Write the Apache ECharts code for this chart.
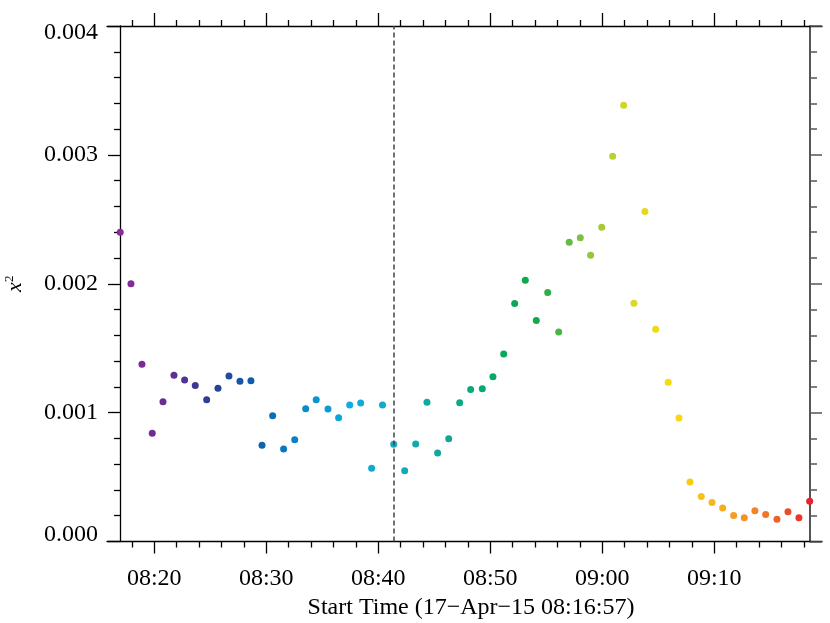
<!DOCTYPE html>
<html>
<head>
<meta charset="utf-8">
<script src="https://cdn.jsdelivr.net/npm/echarts@6/dist/echarts.min.js"></script>
<style>
  html, body { margin: 0; padding: 0; background: #fff; }
  #chart { width: 830px; height: 623px; }
</style>
</head>
<body>
<div id="chart"></div>
<script>
// start time of each fit, minutes after 08:00
const startMinutes = [
  16.96, 17.92, 18.90, 19.82, 20.78, 21.76, 22.71, 23.66, 24.68, 25.69,
  26.67, 27.65, 28.63, 29.62, 30.57, 31.55, 32.54, 33.52, 34.46, 35.51,
  36.46, 37.45, 38.43, 39.41, 40.38, 41.38, 42.36, 43.34, 44.35, 45.30,
  46.29, 47.27, 48.25, 49.29, 50.24, 51.20, 52.18, 53.13, 54.11, 55.13,
  56.11, 57.05, 58.04, 58.96, 59.95, 60.93, 61.91, 62.83, 63.81, 64.77,
  65.89, 66.85, 67.83, 68.84, 69.80, 70.75, 71.73, 72.68, 73.63, 74.59,
  75.60, 76.58, 77.56, 78.52
];
// x^2 values
const chiSquare = [
  0.00240, 0.00200, 0.001375, 0.00084, 0.001085, 0.00129, 0.001253, 0.00121, 0.00110, 0.00119,
  0.001284, 0.001243, 0.001248, 0.000746, 0.000976, 0.000717, 0.00079, 0.00103, 0.00110, 0.001028,
  0.00096, 0.00106, 0.001074, 0.000569, 0.00106, 0.000755, 0.000549, 0.000756, 0.00108, 0.000686,
  0.000798, 0.001077, 0.00118, 0.001186, 0.001279, 0.001455, 0.001846, 0.002027, 0.001714, 0.001932,
  0.001626, 0.002322, 0.002356, 0.002221, 0.002439, 0.00299, 0.003386, 0.001849, 0.002561, 0.001647,
  0.001235, 0.000958, 0.000461, 0.00035, 0.000303, 0.000259, 0.000202, 0.000184, 0.000238, 0.00021,
  0.000173, 0.00023, 0.000184, 0.000313
];
const majorTicks = [20, 30, 40, 50, 60, 70];
const minorTicks = [18, 22, 24, 26, 28, 32, 34, 36, 38, 42, 44, 46, 48, 52, 54, 56, 58, 62, 64, 66, 68, 72, 74, 76, 78];
const markerTime = 41.38;
const xRange = [15.78, 79.62];
const yRange = [0, 0.004];
const colorStops = [
  '#8a2b97', '#6a2c92', '#2a3f94', '#0a62ad', '#0a88cc', '#0aaee2', '#12aabc', '#12a89a',
  '#06a86a', '#10a848', '#80c040', '#d4d628', '#f8dc10', '#f8b020', '#f27a28', '#e8222a'
];

const font = 'Liberation Serif';
const pad = (n) => (n < 10 ? '0' : '') + n;
const timeLabel = (v) => pad(8 + Math.floor(v / 60)) + ':' + pad(Math.round(v % 60));

const chart = echarts.init(document.getElementById('chart'));

const gridBox = { left: 107, right: 8, top: 26, bottom: 81.5, outerBoundsMode: 'none' };

const xBase = {
  type: 'value', min: xRange[0], max: xRange[1],
  splitLine: { show: false },
  axisLine: { onZero: false, lineStyle: { color: '#000', width: 1.3 } }
};

chart.setOption({
  animation: false,
  backgroundColor: '#fff',
  grid: [Object.assign({}, gridBox), Object.assign({}, gridBox)],
  xAxis: [
    Object.assign({}, xBase, {
      gridIndex: 0, position: 'bottom',
      name: 'Start Time (17\u2212Apr\u221215 08:16:57)',
      nameLocation: 'middle', nameGap: 52,
      nameTextStyle: { fontFamily: font, fontSize: 24, color: '#000', padding: [0, 0, 0, 13] },
      axisTick: { customValues: majorTicks, length: 12, lineStyle: { color: '#000', width: 1.3 } },
      axisLabel: { customValues: majorTicks, formatter: timeLabel, fontFamily: font, fontSize: 24, color: '#000', margin: 25 }
    }),
    Object.assign({}, xBase, {
      gridIndex: 0, position: 'top',
      axisTick: { customValues: majorTicks, length: 13, lineStyle: { color: '#000', width: 1.3 } },
      axisLabel: { show: false }
    }),
    Object.assign({}, xBase, {
      gridIndex: 1, position: 'bottom',
      axisLine: { show: false },
      axisTick: { customValues: minorTicks, length: 6, lineStyle: { color: '#000', width: 1.3 } },
      axisLabel: { show: false }
    }),
    Object.assign({}, xBase, {
      gridIndex: 1, position: 'top',
      axisLine: { show: false },
      axisTick: { customValues: minorTicks, length: 6, lineStyle: { color: '#000', width: 1.3 } },
      axisLabel: { show: false }
    })
  ],
  yAxis: [
    {
      gridIndex: 0, type: 'value', position: 'left', offset: -13,
      min: yRange[0], max: yRange[1], interval: 0.001,
      name: '{i|x}{s|2}', nameLocation: 'middle', nameRotate: 90, nameGap: 92,
      nameTextStyle: {
        color: '#000',
        rich: {
          i: { fontFamily: font, fontStyle: 'italic', fontSize: 22, color: '#000' },
          s: { fontFamily: font, fontSize: 13, color: '#000', padding: [0, 0, 12, 0] }
        }
      },
      splitLine: { show: false },
      axisLine: { lineStyle: { color: '#000', width: 1.3 } },
      axisTick: { length: 12, lineStyle: { color: '#000', width: 1.3 } },
      minorTick: { show: true, splitNumber: 5, length: 6, lineStyle: { color: '#000', width: 1.3 } },
      axisLabel: {
        margin: 22, color: '#000', fontFamily: font, fontSize: 24,
        formatter: (v) => {
          if (v <= yRange[0]) return '{lo|' + v.toFixed(3) + '}';
          if (v >= yRange[1]) return '{hi|' + v.toFixed(3) + '}';
          return v.toFixed(3);
        },
        rich: {
          lo: { fontFamily: font, fontSize: 24, color: '#000', padding: [0, 0, 14, 0] },
          hi: { fontFamily: font, fontSize: 24, color: '#000', padding: [14, 0, 0, 0] }
        }
      }
    },
    {
      gridIndex: 0, type: 'value', position: 'right', offset: -12,
      min: yRange[0], max: yRange[1], interval: 0.001,
      splitLine: { show: false },
      axisLine: { lineStyle: { color: '#555', width: 2 } },
      axisTick: { length: 12, lineStyle: { color: '#555', width: 1.5 } },
      minorTick: { show: true, splitNumber: 5, length: 7, lineStyle: { color: '#555', width: 1.5 } },
      axisLabel: { show: false }
    },
    { gridIndex: 1, type: 'value', min: yRange[0], max: yRange[1], show: false }
  ],
  visualMap: {
    show: false, type: 'continuous', seriesIndex: 0, dimension: 2,
    min: 0, max: startMinutes.length - 1,
    inRange: { color: colorStops }
  },
  series: [
    {
      type: 'scatter',
      xAxisIndex: 0, yAxisIndex: 0,
      symbolSize: 7,
      itemStyle: { opacity: 1 },
      data: startMinutes.map((t, i) => [t, chiSquare[i], i]),
      z: 2
    },
    {
      type: 'line',
      xAxisIndex: 0, yAxisIndex: 0,
      data: [],
      z: 5,
      markLine: {
        silent: true, symbol: 'none', label: { show: false },
        lineStyle: { color: '#444', width: 1.5, type: [5, 3] },
        data: [{ xAxis: markerTime }]
      }
    }
  ]
});
</script>
</body>
</html>
